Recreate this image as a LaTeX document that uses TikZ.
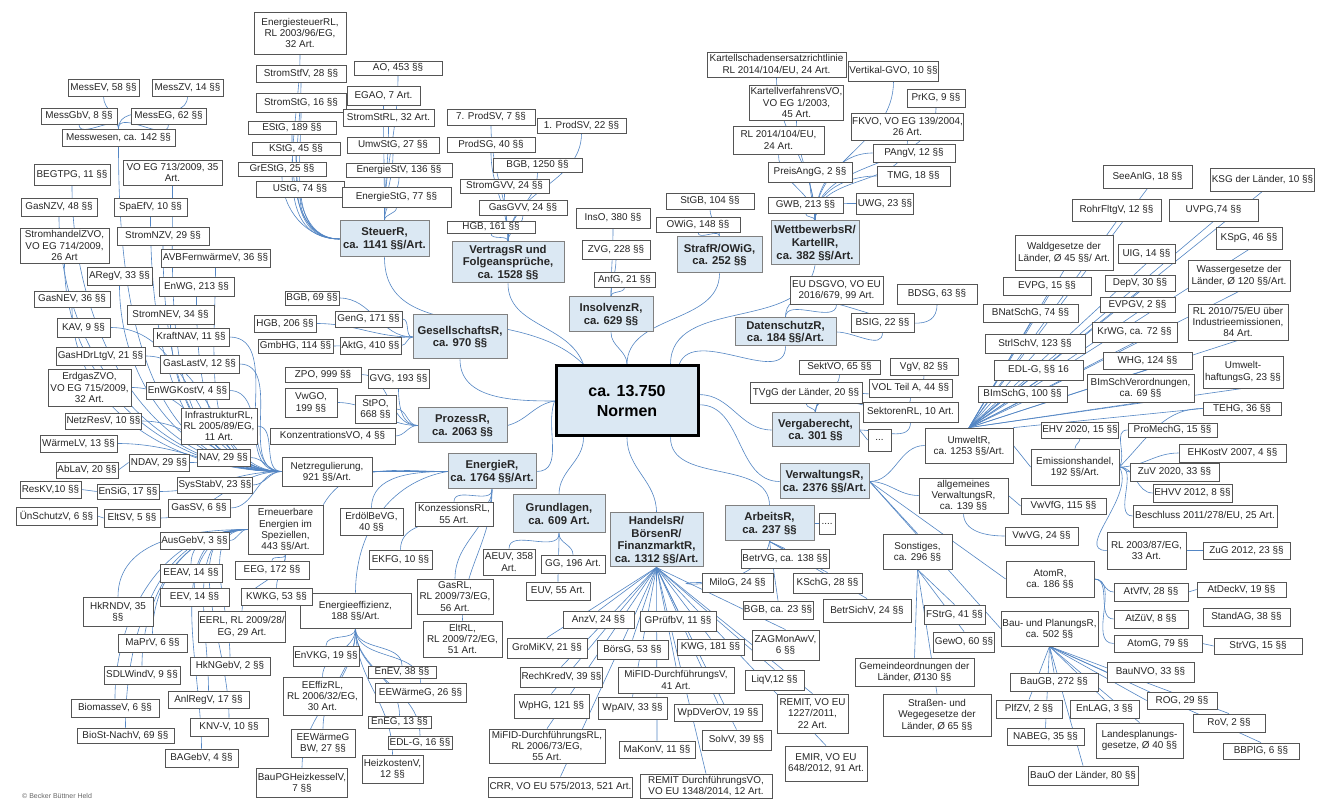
\documentclass[tikz,border=0pt]{standalone}
\usepackage{fontspec}
\setmainfont{Liberation Sans}
\pgfdeclarelayer{bg}
\pgfsetlayers{bg,main}
\definecolor{catblue}{RGB}{219,232,243}
\definecolor{linkblue}{RGB}{84,134,196}
\definecolor{boxgray}{RGB}{85,85,85}
\tikzset{
  leaf/.style={draw=boxgray, line width=0.8pt, fill=white, align=center, inner xsep=1pt, inner ysep=0.5pt, text=black!85, font=\fontsize{9.9}{11.2}\selectfont},
  cat/.style={leaf, draw=black!50, line width=1pt, fill=catblue, font=\fontsize{11.3}{12.8}\selectfont\bfseries},
  core/.style={cat, draw=black, line width=3pt, text=black, font=\fontsize{16}{19.5}\selectfont\bfseries},
  conn/.style={draw=linkblue, line width=0.6pt},
}
\newcommand\nbx[7][leaf]{%
  \pgfmathsetmacro\bxw{#5-#3}%
  \pgfmathsetmacro\bxh{#6-#4}%
  \pgfmathsetmacro\bxx{(#3+#5)/2}%
  \pgfmathsetmacro\bxy{800-(#4+#6)/2}%
  \node[#1, minimum width=\bxw pt, minimum height=\bxh pt] (#2) at (\bxx,\bxy) {#7};%
}
\begin{document}
\begin{tikzpicture}[x=1pt,y=1pt]
\useasboundingbox (0,0) rectangle (1319,800);

% ---------------- center
\nbx[core]{norm}{556}{366}{698}{436}{ca. 13.750\\Normen}

% ---------------- Steuer
\nbx{esrl}{254}{12}{346}{54}{EnergiesteuerRL,\\RL 2003/96/EG,\\32 Art.}
\nbx{ssfv}{256}{65}{346}{82}{StromStfV, 28 §§}
\nbx{sstg}{256}{93}{346}{112}{StromStG, 16 §§}
\nbx{estg}{248}{121}{336}{134}{EStG, 189 §§}
\nbx{kstg}{252}{142}{340}{155}{KStG, 45 §§}
\nbx{grestg}{238}{162}{326}{176}{GrEStG, 25 §§}
\nbx{ustg}{256}{181}{344}{197}{UStG, 74 §§}
\nbx{ao}{354}{61}{442}{75}{AO, 453 §§}
\nbx{egao}{347}{86}{420}{105}{EGAO, 7 Art.}
\nbx{ssrl}{343}{109}{434}{126}{StromStRL, 32 Art.}
\nbx{umwstg}{347}{137}{439}{153}{UmwStG, 27 §§}
\nbx{estv}{346}{163}{452}{177}{EnergieStV, 136 §§}
\nbx{estg2}{342}{187}{451}{207}{EnergieStG, 77 §§}
\nbx[cat]{steuer}{340}{221}{429}{257}{SteuerR,\\ca. 1141 §§/Art.}

% ---------------- Vertrag
\nbx{prodsv7}{447}{109}{535}{125}{7. ProdSV, 7 §§}
\nbx{prodsv1}{537}{118}{626}{133}{1. ProdSV, 22 §§}
\nbx{prodsg}{447}{137}{535}{152}{ProdSG, 40 §§}
\nbx{bgb1250}{493}{158}{582}{172}{BGB, 1250 §§}
\nbx{stromgvv}{460}{179}{549}{193}{StromGVV, 24 §§}
\nbx{gasgvv}{479}{200}{567}{215}{GasGVV, 24 §§}
\nbx{hgb161}{447}{221}{535}{233}{HGB, 161 §§}
\nbx[cat]{vertrag}{452}{242}{564}{283}{VertragsR und\\Folgeansprüche,\\ca. 1528 §§}

% ---------------- Insolvenz
\nbx{inso}{576}{208}{650}{228}{InsO, 380 §§}
\nbx{zvg}{582}{240}{650}{259}{ZVG, 228 §§}
\nbx{anfg}{594}{272}{655}{287}{AnfG, 21 §§}
\nbx[cat]{insolvenz}{569}{297}{653}{332}{InsolvenzR,\\ca. 629 §§}

% ---------------- Straf
\nbx{stgb}{666}{193}{754}{209}{StGB, 104 §§}
\nbx{owig}{656}{217}{740}{232}{OWiG, 148 §§}
\nbx[cat]{straf}{677}{237}{762}{273}{StrafR/OWiG,\\ca. 252 §§}

% ---------------- Wettbewerb
\nbx{kse}{707}{52}{846}{77}{Kartellschadensersatzrichtlinie\\RL 2014/104/EU, 24 Art.}
\nbx{vgvo}{849}{61}{938}{81}{Vertikal-GVO, 10 §§}
\nbx{kvvo}{751}{85}{842}{120}{KartellverfahrensVO,\\VO EG 1/2003,\\45 Art.}
\nbx{prkg}{907}{89}{965}{107}{PrKG, 9 §§}
\nbx{rl2014}{733}{126}{824}{154}{RL 2014/104/EU,\\24 Art.}
\nbx{fkvo}{852}{113}{963}{140}{FKVO, VO EG 139/2004,\\26 Art.}
\nbx{pangv}{873}{144}{955}{162}{PAngV, 12 §§}
\nbx{preisangg}{768}{162}{852}{182}{PreisAngG, 2 §§}
\nbx{tmg}{877}{166}{950}{186}{TMG, 18 §§}
\nbx{gwb}{768}{197}{843}{213}{GWB, 213 §§}
\nbx{uwg}{858}{193}{912}{214}{UWG, 23 §§}
\nbx[cat]{wettb}{771}{221}{859}{265}{WettbewerbsR/\\KartellR,\\ca. 382 §§/Art.}

% ---------------- Gesellschaft
\nbx{bgb69}{285}{291}{339}{305}{BGB, 69 §§}
\nbx{hgb206}{254}{315}{316}{332}{HGB, 206 §§}
\nbx{geng}{335}{311}{402}{327}{GenG, 171 §§}
\nbx{gmbhg}{258}{339}{333}{353}{GmbHG, 114 §§}
\nbx{aktg}{340}{337}{401}{354}{AktG, 410 §§}
\nbx[cat]{gesell}{413}{315}{507}{359}{GesellschaftsR,\\ca. 970 §§}

% ---------------- Prozess
\nbx{zpo}{285}{367}{361}{382}{ZPO, 999 §§}
\nbx{gvg}{368}{369}{429}{388}{GVG, 193 §§}
\nbx{vwgo}{285}{388}{337}{417}{VwGO,\\199 §§}
\nbx{stpo}{355}{395}{396}{423}{StPO,\\668 §§}
\nbx{konzvo}{270}{428}{395}{444}{KonzentrationsVO, 4 §§}
\nbx[cat]{prozess}{418}{408}{507}{443}{ProzessR,\\ca. 2063 §§}

% ---------------- Energie
\nbx[cat]{energie}{448}{454}{536}{489}{EnergieR,\\ca. 1764 §§/Art.}
\nbx{netzreg}{282}{457}{372}{486}{Netzregulierung,\\921 §§/Art.}
\nbx{erneu}{248}{505}{323}{554}{Erneuerbare\\Energien im\\Speziellen,\\443 §§/Art.}
\nbx{erdoel}{340}{508}{403}{535}{ErdölBeVG,\\40 §§}
\nbx{konzrl}{415}{502}{493}{526}{KonzessionsRL,\\55 Art.}
\nbx{ekfg}{369}{550}{432}{569}{EKFG, 10 §§}
\nbx{gasrl}{417}{579}{493}{614}{GasRL,\\RL 2009/73/EG,\\56 Art.}
\nbx{eltrl}{423}{621}{502}{657}{EltRL,\\RL 2009/72/EG,\\51 Art.}
\nbx{effiz}{300}{593}{411}{628}{Energieeffizienz,\\188 §§/Art.}

% ---------------- Netzregulierung leaves
\nbx{messev}{68}{79}{139}{96}{MessEV, 58 §§}
\nbx{messzv}{152}{79}{223}{96}{MessZV, 14 §§}
\nbx{messgbv}{41}{108}{117}{124}{MessGbV, 8 §§}
\nbx{messeg}{131}{108}{206}{124}{MessEG, 62 §§}
\nbx{messw}{62}{129}{175}{146}{Messwesen, ca. 142 §§}
\nbx{begtpg}{34}{164}{110}{185}{BEGTPG, 11 §§}
\nbx{vo713}{123}{160}{222}{185}{VO EG 713/2009, 35\\Art.}
\nbx{gasnzv}{21}{198}{97}{216}{GasNZV, 48 §§}
\nbx{spaefv}{114}{198}{187}{216}{SpaEfV, 10 §§}
\nbx{shzvo}{20}{228}{109}{263}{StromhandelZVO,\\VO EG 714/2009,\\26 Art}
\nbx{stromnzv}{117}{227}{209}{245}{StromNZV, 29 §§}
\nbx{avbf}{161}{249}{270}{267}{AVBFernwärmeV, 36 §§}
\nbx{aregv}{87}{267}{152}{285}{ARegV, 33 §§}
\nbx{enwg}{159}{277}{234}{296}{EnWG, 213 §§}
\nbx{gasnev}{34}{291}{110}{307}{GasNEV, 36 §§}
\nbx{stromnev}{127}{305}{214}{324}{StromNEV, 34 §§}
\nbx{kav}{57}{318}{110}{337}{KAV, 9 §§}
\nbx{kraftnav}{153}{328}{229}{346}{KraftNAV, 11 §§}
\nbx{gashdr}{56}{347}{145}{365}{GasHDrLtgV, 21 §§}
\nbx{gaslastv}{160}{355}{239}{373}{GasLastV, 12 §§}
\nbx{erdgaszvo}{48}{369}{131}{406}{ErdgasZVO,\\VO EG 715/2009,\\32 Art.}
\nbx{enwgkostv}{146}{382}{229}{399}{EnWGKostV, 4 §§}
\nbx{infrarl}{181}{408}{257}{444}{InfrastrukturRL,\\RL 2005/89/EG,\\11 Art.}
\nbx{netzresv}{66}{413}{141}{429}{NetzResV, 10 §§}
\nbx{waermelv}{40}{435}{117}{452}{WärmeLV, 13 §§}
\nbx{ndav}{129}{454}{189}{471}{NDAV, 29 §§}
\nbx{nav}{197}{449}{250}{466}{NAV, 29 §§}
\nbx{ablav}{56}{462}{118}{478}{AbLaV, 20 §§}
\nbx{reskv}{20}{481}{81}{498}{ResKV,10 §§}
\nbx{ensig}{97}{484}{159}{499}{EnSiG, 17 §§}
\nbx{sysstabv}{178}{477}{252}{493}{SysStabV, 23 §§}
\nbx{gassv}{168}{499}{230}{517}{GasSV, 6 §§}
\nbx{unschutzv}{16}{507}{97}{525}{ÜnSchutzV, 6 §§}
\nbx{eltsv}{104}{509}{160}{527}{EltSV, 5 §§}

% ---------------- Erneuerbare leaves
\nbx{ausgebv}{160}{532}{229}{549}{AusGebV, 3 §§}
\nbx{eeav}{160}{564}{222}{582}{EEAV, 14 §§}
\nbx{eeg}{235}{561}{309}{579}{EEG, 172 §§}
\nbx{eev}{160}{588}{229}{606}{EEV, 14 §§}
\nbx{kwkg}{241}{588}{312}{605}{KWKG, 53 §§}
\nbx{hkrndv}{83}{597}{153}{626}{HkRNDV, 35\\§§}
\nbx{eerl}{199}{611}{285}{642}{EERL, RL 2009/28/\\EG, 29 Art.}
\nbx{maprv}{118}{634}{187}{652}{MaPrV, 6 §§}
\nbx{hkngebv}{190}{657}{270}{675}{HkNGebV, 2 §§}
\nbx{sdlwindv}{104}{666}{180}{684}{SDLWindV, 9 §§}
\nbx{anlregv}{168}{691}{249}{708}{AnlRegV, 17 §§}
\nbx{biomassev}{71}{699}{159}{717}{BiomasseV, 6 §§}
\nbx{knvv}{190}{718}{268}{736}{KNV-V, 10 §§}
\nbx{biost}{77}{728}{174}{743}{BioSt-NachV, 69 §§}
\nbx{bagebv}{165}{749}{238}{767}{BAGebV, 4 §§}

% ---------------- Effizienz leaves
\nbx{envkg}{293}{646}{359}{666}{EnVKG, 19 §§}
\nbx{eeffizrl}{283}{677}{362}{715}{EEffizRL,\\RL 2006/32/EG,\\30 Art.}
\nbx{eewgbw}{291}{729}{355}{757}{EEWärmeG\\BW, 27 §§}
\nbx{baupg}{257}{768}{347}{797}{BauPGHeizkesselV,\\7 §§}
\nbx{enev}{368}{666}{436}{678}{EnEV, 38 §§}
\nbx{eewg}{375}{683}{466}{702}{EEWärmeG, 26 §§}
\nbx{eneg}{368}{716}{431}{728}{EnEG, 13 §§}
\nbx{edlg2}{388}{736}{452}{749}{EDL-G, 16 §§}
\nbx{heizk}{362}{755}{423}{783}{HeizkostenV,\\12 §§}

% ---------------- Grundlagen
\nbx[cat]{grund}{513}{495}{605}{533}{Grundlagen,\\ca. 609 Art.}
\nbx{aeuv}{483}{549}{535}{575}{AEUV, 358\\Art.}
\nbx{gg}{541}{555}{605}{573}{GG, 196 Art.}
\nbx{euv}{526}{582}{590}{600}{EUV, 55 Art.}

% ---------------- Handel
\nbx[cat]{handel}{610}{513}{703}{567}{HandelsR/\\BörsenR/\\FinanzmarktR,\\ca. 1312 §§/Art.}
\nbx{anzv}{563}{611}{634}{628}{AnzV, 24 §§}
\nbx{gpruefbv}{640}{611}{716}{631}{GPrüfbV, 11 §§}
\nbx{gromikv}{507}{638}{587}{658}{GroMiKV, 21 §§}
\nbx{boersg}{597}{640}{668}{659}{BörsG, 53 §§}
\nbx{kwg}{677}{639}{744}{655}{KWG, 181 §§}
\nbx{zagmon}{752}{630}{819}{660}{ZAGMonAwV,\\6 §§}
\nbx{rechkredv}{521}{667}{602}{687}{RechKredV, 39 §§}
\nbx{mifiddv}{618}{667}{734}{693}{MiFID-DurchführungsV,\\41 Art.}
\nbx{liqv}{745}{670}{804}{690}{LiqV,12 §§}
\nbx{wphg}{514}{694}{589}{718}{WpHG, 121 §§}
\nbx{wpaiv}{598}{697}{667}{719}{WpAIV, 33 §§}
\nbx{wpdverov}{674}{704}{762}{721}{WpDVerOV, 19 §§}
\nbx{remit}{777}{694}{848}{733}{REMIT, VO EU\\1227/2011,\\22 Art.}
\nbx{solvv}{702}{730}{771}{750}{SolvV, 39 §§}
\nbx{mifidrl}{489}{729}{605}{763}{MiFID-DurchführungsRL,\\RL 2006/73/EG,\\55 Art.}
\nbx{makonv}{619}{741}{695}{758}{MaKonV, 11 §§}
\nbx{emir}{785}{746}{867}{781}{EMIR, VO EU\\648/2012, 91 Art.}
\nbx{crr}{489}{777}{632}{797}{CRR, VO EU 575/2013, 521 Art.}
\nbx{remitdv}{640}{774}{772}{798}{REMIT DurchführungsVO,\\VO EU 1348/2014, 12 Art.}

% ---------------- Datenschutz
\nbx{dsgvo}{790}{276}{883}{304}{EU DSGVO, VO EU\\2016/679, 99 Art.}
\nbx{bdsg}{897}{284}{977}{304}{BDSG, 63 §§}
\nbx{bsig}{851}{313}{914}{332}{BSIG, 22 §§}
\nbx[cat]{daten}{735}{318}{836}{346}{DatenschutzR,\\ca. 184 §§/Art.}

% ---------------- Vergabe
\nbx{sektvo}{799}{360}{880}{374}{SektVO, 65 §§}
\nbx{vgv}{890}{358}{958}{375}{VgV, 82 §§}
\nbx{tvgg}{750}{382}{862}{403}{TVgG der Länder, 20 §§}
\nbx{vol}{869}{379}{952}{397}{VOL Teil A, 44 §§}
\nbx{sektrl}{863}{402}{958}{422}{SektorenRL, 10 Art.}
\nbx[cat]{vergabe}{772}{413}{859}{447}{Vergaberecht,\\ca. 301 §§}
\nbx{vdots}{868}{429}{891}{451}{...}

% ---------------- Verwaltung
\nbx[cat]{verw}{780}{464}{869}{499}{VerwaltungsR,\\ca. 2376 §§/Art.}
\nbx{umwelt}{925}{428}{1013}{463}{UmweltR,\\ca. 1253 §§/Art.}
\nbx{allgv}{919}{478}{1008}{513}{allgemeines\\VerwaltungsR,\\ca. 139 §§}
\nbx{vwvfg}{1021}{498}{1106}{514}{VwVfG, 115 §§}
\nbx{vwvg}{1005}{527}{1078}{545}{VwVG, 24 §§}
\nbx{sonst}{883}{534}{952}{569}{Sonstiges,\\ca. 296 §§}
\nbx{fstrg}{924}{605}{985}{624}{FStrG, 41 §§}
\nbx{gewo}{934}{632}{994}{652}{GewO, 60 §§}
\nbx{gemo}{855}{658}{974}{686}{Gemeindeordnungen der\\Länder, Ø130 §§}
\nbx{strweg}{883}{694}{991}{736}{Straßen- und\\Wegegesetze der\\Länder, Ø 65 §§}

% ---------------- Umwelt leaves
\nbx{seeanlg}{1103}{165}{1192}{188}{SeeAnlG, 18 §§}
\nbx{ksg}{1212}{168}{1313}{191}{KSG der Länder, 10 §§}
\nbx{rohr}{1072}{199}{1161}{221}{RohrFltgV, 12 §§}
\nbx{uvpg}{1169}{199}{1258}{221}{UVPG,74 §§}
\nbx{wald}{1015}{235}{1113}{270}{Waldgesetze der\\Länder, Ø 45 §§/ Art.}
\nbx{uig}{1118}{244}{1175}{263}{UIG, 14 §§}
\nbx{kspg}{1216}{227}{1282}{249}{KSpG, 46 §§}
\nbx{depv}{1105}{275}{1175}{291}{DepV, 30 §§}
\nbx{wasser}{1188}{260}{1290}{291}{Wassergesetze der\\Länder, Ø 120 §§/Art.}
\nbx{evpg}{1003}{277}{1091}{295}{EVPG, 15 §§}
\nbx{evpgv}{1100}{297}{1175}{312}{EVPGV, 2 §§}
\nbx{bnatschg}{983}{304}{1078}{322}{BNatSchG, 74 §§}
\nbx{rl2010}{1188}{304}{1288}{340}{RL 2010/75/EU über\\Industrieemissionen,\\84 Art.}
\nbx{krwg}{1092}{322}{1177}{342}{KrWG, ca. 72 §§}
\nbx{strlschv}{985}{334}{1085}{353}{StrlSchV, 123 §§}
\nbx{whg}{1103}{352}{1192}{369}{WHG, 124 §§}
\nbx{umwh}{1203}{356}{1283}{388}{Umwelt-\\haftungsG, 23 §§}
\nbx{edlg}{994}{360}{1083}{380}{EDL-G, §§ 16}
\nbx{bimschvo}{1087}{374}{1194}{402}{BImSchVerordnungen,\\ca. 69 §§}
\nbx{bimschg}{978}{386}{1067}{402}{BImSchG, 100 §§}
\nbx{tehg}{1203}{402}{1281}{415}{TEHG, 36 §§}

% ---------------- Emissionshandel
\nbx{ehv2020}{1042}{422}{1118}{438}{EHV 2020, 15 §§}
\nbx{promech}{1128}{423}{1217}{437}{ProMechG, 15 §§}
\nbx{emis}{1031}{449}{1119}{485}{Emissionshandel,\\192 §§/Art.}
\nbx{ehkostv}{1179}{444}{1286}{462}{EHKostV 2007, 4 §§}
\nbx{zuv}{1130}{463}{1219}{481}{ZuV 2020, 33 §§}
\nbx{ehvv}{1153}{484}{1232}{502}{EHVV 2012, 8 §§}
\nbx{beschl}{1133}{505}{1277}{527}{Beschluss 2011/278/EU, 25 Art.}
\nbx{rl2003}{1107}{532}{1186}{569}{RL 2003/87/EG,\\33 Art.}
\nbx{zug}{1203}{542}{1290}{559}{ZuG 2012, 23 §§}

% ---------------- Atom
\nbx{atomr}{1006}{561}{1094}{597}{AtomR,\\ca. 186 §§}
\nbx{atvfv}{1114}{583}{1188}{601}{AtVfV, 28 §§}
\nbx{atdeckv}{1197}{582}{1286}{597}{AtDeckV, 19 §§}
\nbx{atzuev}{1114}{610}{1188}{628}{AtZüV, 8 §§}
\nbx{standag}{1203}{608}{1290}{626}{StandAG, 38 §§}
\nbx{atomg}{1114}{635}{1202}{652}{AtomG, 79 §§}
\nbx{strvg}{1214}{638}{1302}{654}{StrVG, 15 §§}

% ---------------- Bau
\nbx{bau}{1001}{611}{1098}{646}{Bau- und PlanungsR,\\ca. 502 §§}
\nbx{baunvo}{1107}{662}{1194}{682}{BauNVO, 33 §§}
\nbx{baugb}{1010}{673}{1098}{691}{BauGB, 272 §§}
\nbx{rog}{1147}{692}{1217}{709}{ROG, 29 §§}
\nbx{plfzv}{996}{700}{1062}{718}{PlfZV, 2 §§}
\nbx{enlag}{1070}{700}{1139}{718}{EnLAG, 3 §§}
\nbx{rov}{1193}{714}{1265}{732}{RoV, 2 §§}
\nbx{nabeg}{1007}{728}{1084}{745}{NABEG, 35 §§}
\nbx{landespl}{1096}{723}{1183}{758}{Landesplanungs-\\gesetze, Ø 40 §§}
\nbx{bbplg}{1223}{743}{1299}{759}{BBPlG, 6 §§}
\nbx{bauo}{1028}{766}{1138}{785}{BauO der Länder, 80 §§}

% ---------------- Arbeit
\nbx[cat]{arbeit}{725}{506}{814}{541}{ArbeitsR,\\ca. 237 §§}
\nbx{adots}{819}{513}{835}{534}{....}
\nbx{betrvg}{741}{549}{829}{568}{BetrVG, ca. 138 §§}
\nbx{milog}{702}{573}{773}{592}{MiloG, 24 §§}
\nbx{kschg}{793}{573}{862}{593}{KSchG, 28 §§}
\nbx{bgb23}{743}{601}{813}{619}{BGB, ca. 23 §§}
\nbx{betrsichv}{823}{599}{911}{622}{BetrSichV, 24 §§}

\node[anchor=south west, font=\fontsize{7}{8}\selectfont, text=black!60, inner sep=0pt] (copy) at (22,1) {© Becker Büttner Held};

% ================= connectors
\begin{pgfonlayer}{bg}
\fill[white] (0,0) rectangle (1319,800);
% center
\draw[conn] (steuer.south) to[out=-90,in=135] (norm.140);
\draw[conn] (vertrag.south) to[out=-90,in=110] (norm.140);
\draw[conn] (gesell.south) to[out=-90,in=180] (norm.west);
\draw[conn] (prozess.east) to[out=15,in=190] (norm.west);
\draw[conn] (energie.east) to[out=0,in=-110] (norm.west);
\draw[conn] (grund.north) to[out=90,in=-90] (norm.-140);
\draw[conn] (handel.north) to[out=90,in=-90] (norm.south);
\draw[conn] (insolvenz.south) to[out=-90,in=90] (norm.north);
\draw[conn] (straf.south) to[out=-90,in=90] (norm.north);
\draw[conn] (wettb.south) to[out=-100,in=90] (norm.40);
\draw[conn] (daten.south) to[out=-90,in=70] (norm.35);
\draw[conn] (vergabe.west) to[out=180,in=0] (norm.5);
\draw[conn] (verw.west) to[out=180,in=0] (norm.-3);
\draw[conn] (arbeit.north) to[out=90,in=-90] (norm.-40);
% Steuer
\foreach \n in {esrl,ssfv,sstg,estg,kstg,grestg,ustg}
  \draw[conn] (\n.south) to[out=-90,in=180] (steuer.west);
\foreach \n in {ao,egao,ssrl,umwstg,estv,estg2}
  \draw[conn] (\n.south) to[out=-90,in=90] (steuer.north);
% Vertrag
\foreach \n in {prodsv7,prodsv1,prodsg,bgb1250,stromgvv,gasgvv,hgb161}
  \draw[conn] (\n.south) to[out=-90,in=90] (vertrag.north);
% Insolvenz, Straf
\foreach \n in {inso,zvg,anfg}
  \draw[conn] (\n.south) to[out=-90,in=90] (insolvenz.north);
\foreach \n in {stgb,owig}
  \draw[conn] (\n.south) to[out=-90,in=90] (straf.north);
% Wettbewerb
\foreach \n in {kse,vgvo,kvvo,prkg,rl2014,fkvo,preisangg,gwb}
  \draw[conn] (\n.south) to[out=-90,in=90] (wettb.north);
\foreach \n in {pangv,tmg,uwg}
  \draw[conn] (\n.west) to[out=180,in=90] (wettb.north);
% Gesellschaft, Prozess
\foreach \n in {bgb69,hgb206,geng,gmbhg,aktg}
  \draw[conn] (\n.east) to[out=0,in=180] (gesell.west);
\foreach \n in {zpo,vwgo,stpo,konzvo}
  \draw[conn] (\n.east) to[out=0,in=180] (prozess.west);
\draw[conn] (gvg.south) to[out=-90,in=180] (prozess.west);
% Energie
\draw[conn] (netzreg.east) to[out=0,in=180] (energie.west);
\draw[conn] (erneu.north east) to[out=60,in=180] (energie.west);
\draw[conn] (erdoel.north) to[out=90,in=180] (energie.west);
\draw[conn] (effiz.north) to[out=90,in=190] (energie.west);
\foreach \n in {konzrl,ekfg,gasrl,eltrl}
  \draw[conn] (\n.north) to[out=90,in=-90] (energie.south);
% Netzregulierung
\foreach \n in {messev,messzv,messgbv,messeg}
  \draw[conn] (\n.south) to[out=-90,in=90] (messw.north);
\foreach \n in {messw,begtpg,vo713,gasnzv,spaefv,shzvo,stromnzv,avbf,aregv,enwg,gasnev,stromnev}
  \draw[conn] (\n.south) to[out=-90,in=180] (netzreg.west);
\foreach \n in {kav,kraftnav,gashdr,gaslastv,erdgaszvo,enwgkostv,infrarl,netzresv,waermelv,ndav,nav,ensig,sysstabv,gassv,eltsv}
  \draw[conn] (\n.east) to[out=0,in=180] (netzreg.west);
\draw[conn] (reskv.east) -- (ensig.west);
\draw[conn] (unschutzv.east) -- (eltsv.west);
\draw[conn] (ablav.east) -- (ndav.west);
% Erneuerbare
\draw[conn] (ausgebv.east) to[out=0,in=180] (erneu.west);
\foreach \n in {eeav,eev,hkrndv,maprv,sdlwindv,biomassev,biost,anlregv,knvv,bagebv,hkngebv}
  \draw[conn] (\n.north) to[out=90,in=180] (erneu.west);
\foreach \n in {eeg,kwkg,eerl}
  \draw[conn] (\n.north) to[out=90,in=-90] (erneu.south);
% Effizienz
\foreach \n in {envkg,eeffizrl,eewgbw,baupg,enev,eewg,eneg,edlg2,heizk}
  \draw[conn] (\n.north) to[out=90,in=-90] (effiz.south);
% Grundlagen
\foreach \n in {aeuv,gg,euv}
  \draw[conn] (\n.north) to[out=90,in=-90] (grund.south);
% Handel
\foreach \n in {anzv,gpruefbv,gromikv,boersg,kwg,zagmon,rechkredv,mifiddv,liqv,wphg,wpaiv,wpdverov,remit,solvv,mifidrl,makonv,emir,crr,remitdv}
  \draw[conn] (\n.north) -- (handel.south);
% Datenschutz
\draw[conn] (dsgvo.south) to[out=-90,in=90] (daten.north);
\draw[conn] (bdsg.south) to[out=-90,in=90] (daten.north);
\draw[conn] (bsig.south) to[out=-90,in=0] (daten.east);
% Vergabe
\foreach \n in {sektvo,vgv,tvgg,vol}
  \draw[conn] (\n.south) to[out=-90,in=90] (vergabe.north);
\draw[conn] (sektrl.south) to[out=-90,in=0] (vergabe.east);
\draw[conn] (vergabe.east) -- (vdots.west);
% Verwaltung
\draw[conn] (verw.east) to[out=0,in=180] (umwelt.west);
\draw[conn] (verw.east) to[out=0,in=180] (allgv.west);
\draw[conn] (verw.east) -- (sonst.north);
\draw[conn] (verw.east) -- (atomr.west);
\draw[conn] (verw.east) -- (bau.west);
\draw[conn] (allgv.east) -- (vwvfg.west);
\draw[conn] (allgv.south) to[out=-90,in=180] (vwvg.west);
\foreach \n in {fstrg,gewo,gemo,strweg}
  \draw[conn] (sonst.south) -- (\n.north);
% Umwelt
\foreach \n in {seeanlg,ksg,rohr,uvpg,wald,uig,kspg,depv,wasser,evpg,evpgv,bnatschg,rl2010,krwg,strlschv,whg,edlg,bimschvo,bimschg,umwh}
  \draw[conn] (umwelt.north) -- (\n.south);
\draw[conn] (umwelt.north east) -- (tehg.west);
\draw[conn] (umwelt.east) -- (emis.west);
% Emissionshandel
\draw[conn] (ehv2020.south) to[out=-90,in=90] (emis.north);
\foreach \n in {ehkostv,zuv,ehvv,beschl}
  \draw[conn] (emis.east) to[out=0,in=180] (\n.west);
\draw[conn] (emis.east) to[out=60,in=180] (promech.west);
\draw[conn] (emis.east) to[out=45,in=180] (tehg.west);
\draw[conn] (emis.east) to[out=-60,in=180] (rl2003.west);
\draw[conn] (rl2003.east) -- (zug.west);
% Atom
\foreach \n in {atvfv,atzuev,atomg}
  \draw[conn] (atomr.east) to[out=0,in=180] (\n.west);
\draw[conn] (atvfv.east) -- (atdeckv.west);
\draw[conn] (atomg.east) -- (strvg.west);
% Bau
\foreach \n in {baugb,plfzv,nabeg,bauo,enlag,landespl,rov,bbplg}
  \draw[conn] (bau.south) -- (\n.north);
\foreach \n in {baunvo,rog}
  \draw[conn] (bau.south) -- (\n.west);
% Arbeit
\foreach \n in {betrvg,kschg,bgb23,betrsichv}
  \draw[conn] (arbeit.south) -- (\n.north);
\draw[conn] (milog.west) to[out=180,in=-100,looseness=1.8] (arbeit.south);
\draw[conn] (arbeit.east) -- (adots.west);
\end{pgfonlayer}
\end{tikzpicture}
\end{document}
